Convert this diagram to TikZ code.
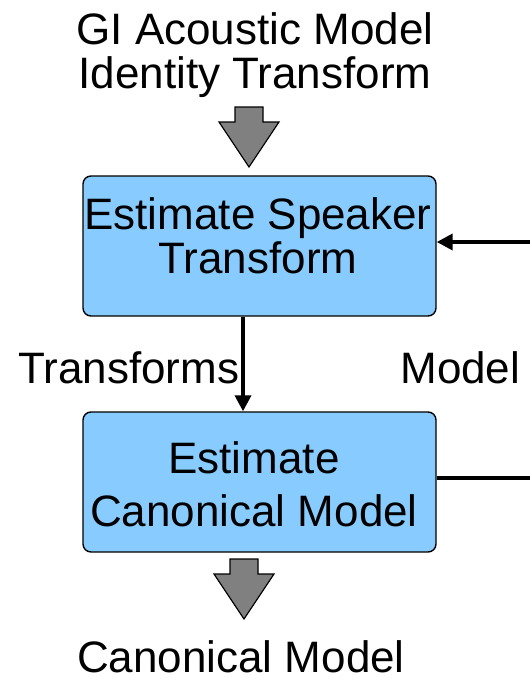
\documentclass[tikz,border=0pt]{standalone}
\usepackage{fontspec}
\setmainfont{Liberation Sans}
\usetikzlibrary{arrows.meta}
\definecolor{boxblue}{RGB}{136,204,255}
\definecolor{arrowgray}{RGB}{128,128,128}
\newcommand{\fatarrow}[2]{%
    \draw[bigarrow] (#1-14,#2) -- (#1+14,#2) -- (#1+14,#2+15) -- (#1+30,#2+15)
        -- (#1,#2+60) -- (#1-30,#2+15) -- (#1-14,#2+15) -- cycle;}

\begin{document}
\begin{tikzpicture}[x=0.5pt, y=-0.5pt,
    every node/.style={font=\fontsize{22}{22}\selectfont, inner sep=0pt},
    stepbox/.style={draw, line width=0.7pt, fill=boxblue, rounded corners=4pt,
        minimum width=176.5pt, minimum height=70pt},
    flow/.style={line width=1.8pt, -{Triangle[length=8pt,width=8pt]}},
    bigarrow/.style={draw, line width=0.6pt, fill=arrowgray}]
    \useasboundingbox (0,0) rectangle (530,680);
    \node[align=center, anchor=north] (init) at (255,12) {GI Acoustic Model\\Identity Transform};
    \fatarrow{249}{107}
    \node[stepbox] (spk) at (259.5,246) {};
    \node[stepbox] (can) at (259.5,482) {};
    \node[align=center, anchor=north] (spktxt) at (258,197) {Estimate Speaker\\Transform};
    \node[align=center, anchor=north] (cantxt) at (254,441) {Estimate\\[4.5pt]Canonical Model};
    \coordinate (inR) at (530,242);
    \coordinate (outR) at (530,478);
    \draw[flow] ([xshift=-8.25pt]spk.south) -- ([xshift=-8.25pt]can.north);
    \draw[flow] (inR) -- ([yshift=2pt]spk.east);
    \draw[line width=1.8pt] ([yshift=2pt]can.east) -- (outR);
    \node[anchor=base west] (trlbl) at (18,383) {Transforms};
    \node[anchor=base west] (mdllbl) at (400,383) {Model};
    \fatarrow{244}{559}
    \node[anchor=base] (final) at (241,672) {Canonical Model};
    % \draw[flow] (outR) |- (inR);
\end{tikzpicture}
\end{document}
